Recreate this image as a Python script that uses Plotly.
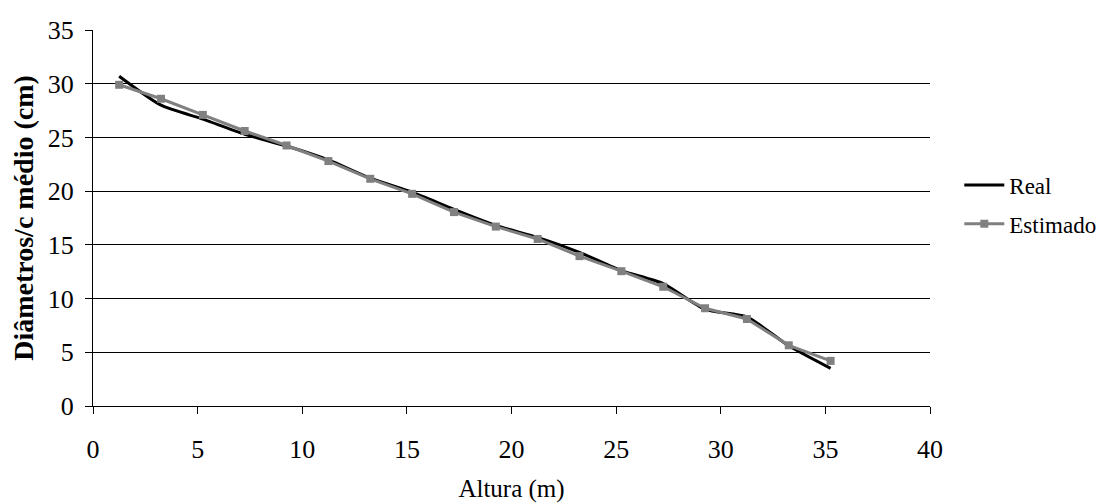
import plotly.graph_objects as go

altura = [1.25, 3.25, 5.25, 7.25, 9.25, 11.25, 13.25, 15.25, 17.25, 19.25,
          21.25, 23.25, 25.25, 27.25, 29.25, 31.25, 33.25, 35.25]
real = [30.7, 28.0, 26.7, 25.3, 24.2, 22.9, 21.2, 19.9, 18.3, 16.8,
        15.7, 14.3, 12.6, 11.4, 9.0, 8.3, 5.6, 3.5]
estimado = [29.9, 28.6, 27.1, 25.6, 24.25, 22.8, 21.15, 19.75, 18.05, 16.7,
            15.55, 13.95, 12.55, 11.1, 9.1, 8.1, 5.65, 4.2]
x_ticks = [0, 5, 10, 15, 20, 25, 30, 35, 40]
y_ticks = [0, 5, 10, 15, 20, 25, 30, 35]

font_family = "Liberation Serif"

fig = go.Figure()
fig.add_trace(go.Scatter(x=altura, y=real, name="Real", mode="lines", legendgroup="r",
                         line=dict(color="black", width=3, shape="spline", smoothing=0.6)))
fig.add_trace(go.Scatter(x=altura, y=estimado, name="Estimado", mode="lines+markers",
                         legendgroup="e",
                         line=dict(color="#808080", width=3),
                         marker=dict(symbol="square", size=8, color="#808080")))

fig.update_layout(
    width=1105, height=504,
    margin=dict(l=85, r=175, t=22, b=106),
    paper_bgcolor="white", plot_bgcolor="white",
    font=dict(family=font_family, size=26, color="black"),
    showlegend=True,
    legend=dict(x=1.035, y=0.645, xanchor="left", yanchor="top",
                font=dict(size=23), itemwidth=40, tracegroupgap=6,
                bgcolor="rgba(0,0,0,0)", borderwidth=0),
    xaxis=dict(range=[0, 40], tickvals=x_ticks, showgrid=False, zeroline=False,
               showline=True, linecolor="black", linewidth=1, automargin=False,
               ticks="outside", ticklen=7, tickcolor="black", ticklabelstandoff=13,
               tickfont=dict(size=26),
               title=dict(text="Altura (m)", standoff=16, font=dict(size=25))),
    yaxis=dict(range=[0, 35], tickvals=y_ticks, showgrid=True, gridcolor="black",
               gridwidth=1, zeroline=False, showline=True, linecolor="black", linewidth=1,
               automargin=False, ticks="outside", ticklen=7, tickcolor="black",
               ticklabelstandoff=6, tickfont=dict(size=26),
               title=dict(text="<b>Diâmetros/c médio (cm)</b>", standoff=8,
                          font=dict(size=28))),
)

fig.write_html("out.html")
